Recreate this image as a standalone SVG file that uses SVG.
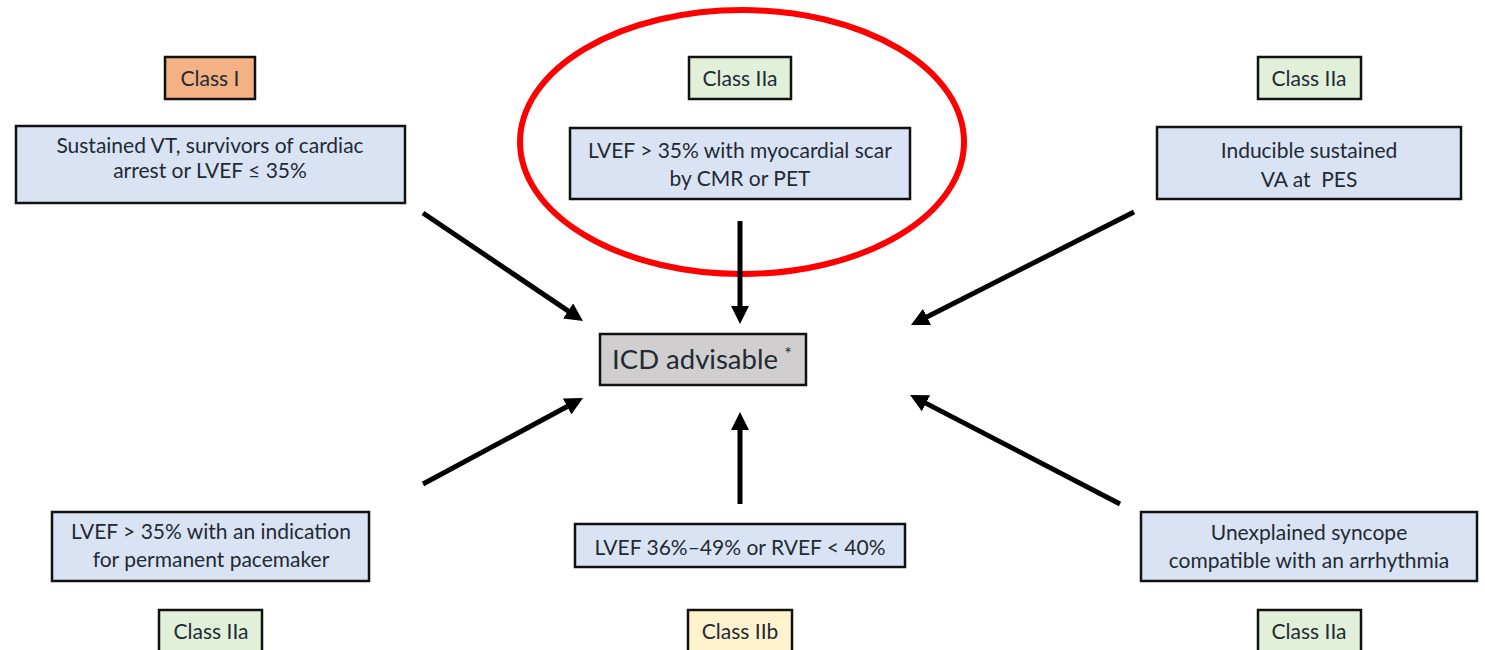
<svg xmlns="http://www.w3.org/2000/svg" width="1485" height="650" viewBox="0 0 1485 650">
<defs>
<style>
.box{fill:#DAE3F3;stroke:#111;stroke-width:2.5}
.c1{fill:#F4B183;stroke:#111;stroke-width:2.5}
.c2a{fill:#E2F0D9;stroke:#111;stroke-width:2.5}
.c2b{fill:#FFF2CC;stroke:#111;stroke-width:2.5}
.icd{fill:#D0CECE;stroke:#111;stroke-width:2.5}
text{font-family:Lato,"Open Sans","Liberation Sans",sans-serif;fill:#222a35;text-anchor:middle}
.t{font-size:21px}
.big{font-size:27.5px}
.conn line{stroke:#000;stroke-width:5;marker-end:url(#ah)}
</style>
<marker id="ah" markerUnits="userSpaceOnUse" markerWidth="18" markerHeight="18" refX="8" refY="9" orient="auto">
<path d="M0,0 L18,9 L0,18 z" fill="#000"/>
</marker>
</defs>
<rect width="1485" height="650" fill="#fff"/>

<g id="class-tl"><rect class="c1" x="165" y="57" width="90" height="42"/><text class="t" x="210" y="86">Class I</text></g>
<g id="node-tl"><rect class="box" x="16" y="126" width="389" height="77"/><text class="t" x="210" y="153">Sustained VT, survivors of cardiac</text><text class="t" x="210" y="178">arrest or LVEF ≤ 35%</text></g>

<g id="class-tc"><rect class="c2a" x="689" y="57" width="102" height="42"/><text class="t" x="740" y="86">Class IIa</text></g>
<g id="node-tc"><rect class="box" x="570" y="128" width="340" height="71"/><text class="t" x="740" y="158">LVEF &gt; 35% with myocardial scar</text><text class="t" x="740" y="186">by CMR or PET</text></g>

<g id="class-tr"><rect class="c2a" x="1258" y="57" width="103" height="42"/><text class="t" x="1309" y="86">Class IIa</text></g>
<g id="node-tr"><rect class="box" x="1157" y="127" width="304" height="72"/><text class="t" x="1309" y="158">Inducible sustained</text><text class="t" x="1309" y="187" style="white-space:pre">VA at  PES</text></g>

<g id="node-icd"><rect class="icd" x="600" y="334" width="206" height="51"/><text class="big" x="695" y="369">ICD advisable</text><text x="788" y="360" style="font-size:18px">*</text></g>

<g id="node-bl"><rect class="box" x="52" y="512" width="317" height="69"/><text class="t" x="211" y="539">LVEF &gt; 35% with an indication</text><text class="t" x="211" y="567">for permanent pacemaker</text></g>
<g id="class-bl"><rect class="c2a" x="159" y="610" width="103" height="44"/><text class="t" x="211" y="639">Class IIa</text></g>

<g id="node-bc"><rect class="box" x="575" y="524" width="330" height="43"/><text class="t" x="740" y="555">LVEF 36%–49% or RVEF &lt; 40%</text></g>
<g id="class-bc"><rect class="c2b" x="688" y="610" width="104" height="44"/><text class="t" x="740" y="639">Class IIb</text></g>

<g id="node-br"><rect class="box" x="1141" y="512" width="336" height="69"/><text class="t" x="1309" y="540">Unexplained syncope</text><text class="t" x="1309" y="568">compatible with an arrhythmia</text></g>
<g id="class-br"><rect class="c2a" x="1258" y="610" width="103" height="44"/><text class="t" x="1309" y="639">Class IIa</text></g>

<ellipse id="highlight" cx="742" cy="142" rx="222" ry="132" fill="none" stroke="#FF0000" stroke-width="6"/>

<g id="connectors" class="conn">
<line x1="423" y1="213" x2="574.7" y2="315.4"/>
<line x1="740" y1="221" x2="740" y2="314"/>
<line x1="1134" y1="212" x2="919.9" y2="320.5"/>
<line x1="423" y1="484" x2="574.2" y2="402.7"/>
<line x1="740" y1="504" x2="740" y2="422"/>
<line x1="1120" y1="504" x2="918.9" y2="399.6"/>
</g>
</svg>
